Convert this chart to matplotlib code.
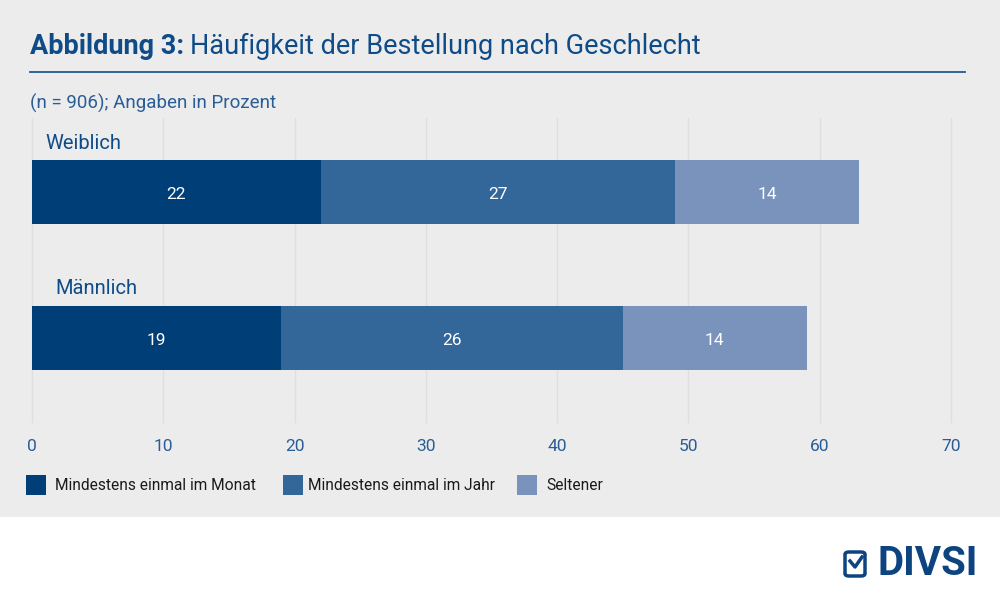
import matplotlib
matplotlib.use("Agg")
import matplotlib.pyplot as plt
from matplotlib.patches import Rectangle, FancyBboxPatch
from matplotlib.lines import Line2D

plt.rcParams['font.family'] = ['Roboto', 'DejaVu Sans']

# data
groups = ['Weiblich', 'Männlich']
series = ['Mindestens einmal im Monat', 'Mindestens einmal im Jahr', 'Seltener']
monat = [22, 19]
jahr = [27, 26]
seltener = [14, 14]
xticks = [0, 10, 20, 30, 40, 50, 60, 70]

colors = ['#003e78', '#336699', '#7a93bd']
text_blue = '#0f4c87'
bg = '#ececec'

W, H = 1000, 599
fig = plt.figure(figsize=(W / 100, H / 100), dpi=100)
fig.patch.set_facecolor('white')

def fx(px):
    return px / W

def fy(py):
    return 1 - py / H

# grey panel
fig.patches.append(Rectangle((0, fy(517)), 1, 517 / H, transform=fig.transFigure,
                             facecolor=bg, edgecolor='none', zorder=-5))

# title
t1 = fig.text(fx(30), fy(46), 'Abbildung 3:', fontsize=19.5, fontweight='bold',
              color=text_blue, va='center', ha='left')
fig.canvas.draw()
bb = t1.get_window_extent()
fig.text(bb.x1 / W + fx(6), fy(46), 'Häufigkeit der Bestellung nach Geschlecht',
         fontsize=19.5, color=text_blue, va='center', ha='left')
fig.lines.append(Line2D([fx(30), fx(965)], [fy(72), fy(72)], transform=fig.transFigure,
                        color='#1f5a96', linewidth=1.3))
fig.text(fx(30), fy(103), '(n = 906); Angaben in Prozent', fontsize=13.5,
         color='#2a5d96', va='center', ha='left')

# axes: x 0..70 maps to px 32..951, y px 118..422
ax = fig.add_axes([fx(32), fy(422), fx(951) - fx(32), (422 - 118) / H])
ax.set_zorder(3)
ax.set_facecolor('none')
ax.set_xlim(0, 70)
ax.set_ylim((422 - 192) / 146.5, (118 - 192) / 146.5)
ypos = [0, 1]
h = 64 / 146.5

lefts = [0, 0]
for vals, col in zip([monat, jahr, seltener], colors):
    ax.barh(ypos, vals, left=lefts, height=h, color=col, edgecolor='none', zorder=2)
    for y, v, l in zip(ypos, vals, lefts):
        ax.text(l + v / 2, y + 0.015, str(v), color='white', fontsize=12.5,
                ha='center', va='center', zorder=3)
    lefts = [l + v for l, v in zip(lefts, vals)]

label_x = [1.0, 1.75]
label_y = [-0.334, 0.662]
for g, lx, ly in zip(groups, label_x, label_y):
    ax.text(lx, ly, g, fontsize=14.5, color=text_blue, ha='left', va='center')

ax.set_xticks(xticks)
ax.set_xticklabels([str(t) for t in xticks], color='#2a5d96', fontsize=12.5)
ax.tick_params(axis='x', length=0, pad=12)
ax.set_yticks([])
for t in xticks:
    ax.axvline(t, color='#dfdfdf', linewidth=1, zorder=0, clip_on=False)
for s in ax.spines.values():
    s.set_visible(False)

# legend
sq = [(26, 55), (283, 308), (517, 546)]
for (sx, tx), col, name in zip(sq, colors, series):
    fig.patches.append(Rectangle((fx(sx), fy(495)), fx(20), 20 / H,
                                 transform=fig.transFigure, facecolor=col,
                                 edgecolor='none'))
    fig.text(fx(tx), fy(486), name, fontsize=11.2, color='#1a1a1a',
             va='center', ha='left')

# logo
fig.patches.append(FancyBboxPatch((fx(845), fy(576)), fx(20), 24 / H,
                                  boxstyle='round,pad=0,rounding_size=0.004',
                                  transform=fig.transFigure, facecolor='none',
                                  edgecolor='#0d4480', linewidth=2.5))
fig.lines.append(Line2D([fx(850), fx(855), fx(862)], [fy(561), fy(567), fy(557)],
                        transform=fig.transFigure, color='#0d4480', linewidth=2.5))
fig.text(fx(877), fy(564), 'DIVSI', fontsize=29, fontweight='bold', color='#0d4480',
         va='center', ha='left')

fig.savefig('out.png', dpi=100, facecolor=fig.get_facecolor())
